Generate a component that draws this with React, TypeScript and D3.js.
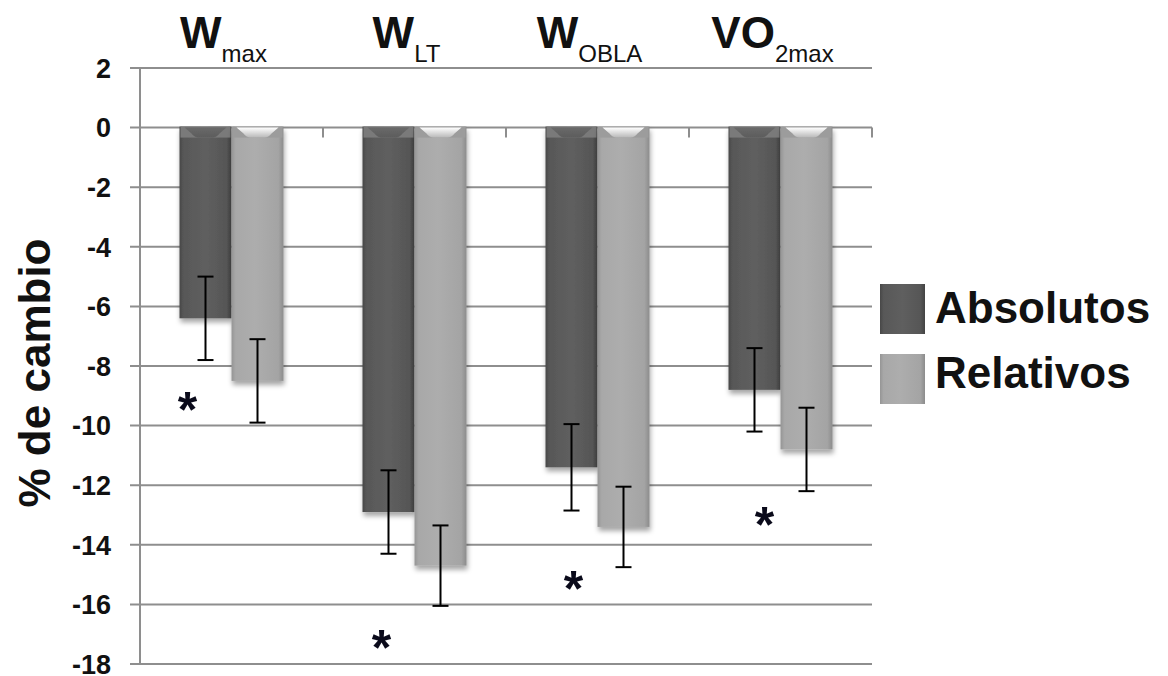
import React from "react";
import * as d3 from "d3";

// Percent change per measure
const categories = ["Wmax", "WLT", "WOBLA", "VO2max"];
const titleMain = ["W", "W", "W", "VO"];
const titleSub = ["max", "LT", "OBLA", "2max"];
const seriesNames = ["Absolutos", "Relativos"];
const absolutos = [-6.4, -12.9, -11.4, -8.8];
const relativos = [-8.5, -14.7, -13.4, -10.8];
const errAbsolutos = [1.4, 1.4, 1.45, 1.4];
const errRelativos = [1.4, 1.35, 1.35, 1.4];
// significance markers (y value) and their horizontal nudge from the dark bar centre
const asteriskY = [-9.1, -17.1, -15.1, -12.95];
const asteriskNudge = [-18, -7, 2, 10];
const yTicks = [2, 0, -2, -4, -6, -8, -10, -12, -14, -16, -18];

const W = 1168;
const H = 676;
const FONT = "'Liberation Sans', Arial, Helvetica, sans-serif";

export default function App() {
  const x = d3.scaleBand<string>().domain(categories).range([140, 872]).padding(0);
  const groupW = 104;
  const xs = d3.scaleBand<string>().domain(seriesNames).range([0, groupW]).padding(0);
  const y = d3.scaleLinear().domain([-18, 2]).range([664, 68]);

  const values = [absolutos, relativos];
  const errs = [errAbsolutos, errRelativos];
  const gradIds = ["gradDark", "gradLight"];
  const cupIds = ["cupDark", "cupLight"];
  const bandColors = ["#7a7a7a", "#9c9c9c"];

  const barX = (ci: number, si: number) =>
    (x(categories[ci]) as number) + (x.bandwidth() - groupW) / 2 + (xs(seriesNames[si]) as number);

  return (
    <svg
      width={W}
      height={H}
      style={{ position: "absolute", left: 0, top: 0, background: "#fff" }}
      fontFamily={FONT}
    >
      <defs>
        <linearGradient id="gradDark" x1="0" x2="1" y1="0" y2="0">
          <stop offset="0" stopColor="#474747" />
          <stop offset="0.08" stopColor="#585858" />
          <stop offset="0.5" stopColor="#5f5f5f" />
          <stop offset="0.9" stopColor="#565656" />
          <stop offset="1" stopColor="#434343" />
        </linearGradient>
        <linearGradient id="gradLight" x1="0" x2="1" y1="0" y2="0">
          <stop offset="0" stopColor="#959595" />
          <stop offset="0.08" stopColor="#a8a8a8" />
          <stop offset="0.45" stopColor="#adadad" />
          <stop offset="0.9" stopColor="#a4a4a4" />
          <stop offset="1" stopColor="#8c8c8c" />
        </linearGradient>
        <linearGradient id="cupDark" x1="0" x2="0" y1="0" y2="1">
          <stop offset="0" stopColor="#6a6a6a" />
          <stop offset="1" stopColor="#5c5c5c" />
        </linearGradient>
        <linearGradient id="cupLight" x1="0" x2="0" y1="0" y2="1">
          <stop offset="0" stopColor="#ffffff" />
          <stop offset="1" stopColor="#b8b8b8" />
        </linearGradient>
        <filter id="shadow" x="-20%" y="-10%" width="140%" height="130%">
          <feDropShadow dx="1" dy="4" stdDeviation="2.5" floodColor="#000" floodOpacity="0.35" />
        </filter>
        <filter id="soft" x="-5%" y="-20%" width="110%" height="140%">
          <feGaussianBlur stdDeviation="0.7" />
        </filter>
      </defs>

      {/* gridlines */}
      {yTicks.map((t) => (
        <line key={t} x1={130} x2={872} y1={y(t)} y2={y(t)} stroke="#8e8e8e" strokeWidth={2} />
      ))}
      {/* vertical axis */}
      <line x1={140} x2={140} y1={y(2)} y2={y(-18)} stroke="#8e8e8e" strokeWidth={2} />
      {/* category tick marks on the zero line */}
      {categories.map((c) => {
        const xe = (x(c) as number) + x.bandwidth();
        return <line key={c} x1={xe} x2={xe} y1={y(0)} y2={y(0) + 10} stroke="#8e8e8e" strokeWidth={2} />;
      })}

      {/* y tick labels */}
      {yTicks.map((t) => (
        <text
          key={t}
          x={111}
          y={y(t)}
          dy="0.36em"
          textAnchor="end"
          fontSize={27}
          fontWeight="bold"
          fill="#111"
        >
          {t}
        </text>
      ))}

      {/* y axis title */}
      <text
        transform={`translate(50, 373) rotate(-90)`}
        textAnchor="middle"
        fontSize={44}
        fontWeight="bold"
        fill="#111"
      >
        % de cambio
      </text>

      {/* category titles */}
      {categories.map((c, i) => (
        <text
          key={c}
          x={(x(c) as number) + x.bandwidth() / 2 - 8}
          y={48}
          textAnchor="middle"
          fill="#111"
        >
          <tspan fontSize={44} fontWeight="bold">
            {titleMain[i]}
          </tspan>
          <tspan fontSize={24} dy={14}>
            {titleSub[i]}
          </tspan>
        </text>
      ))}

      {/* bars */}
      {categories.map((c, ci) =>
        values.map((vals, si) => {
          const bx = barX(ci, si);
          const bw = xs.bandwidth();
          const y0 = y(0) - 1;
          const y1 = y(vals[ci]);
          const bevel = 11;
          const cup = `M${bx + 5},${y0 + 1} L${bx + bw - 5},${y0 + 1} L${bx + bw - 12},${y0 + bevel - 4} Q${bx + bw - 15},${y0 + bevel} ${bx + bw - 19},${y0 + bevel} L${bx + 19},${y0 + bevel} Q${bx + 15},${y0 + bevel} ${bx + 12},${y0 + bevel - 4} Z`;
          return (
            <g key={`${c}-${si}`}>
              <rect x={bx} y={y0} width={bw} height={y1 - y0} fill={`url(#${gradIds[si]})`} filter="url(#shadow)" />
              <rect x={bx + 1} y={y0} width={bw - 2} height={bevel} fill={bandColors[si]} filter="url(#soft)" />
              <path d={cup} fill={`url(#${cupIds[si]})`} filter="url(#soft)" />
            </g>
          );
        })
      )}

      {/* error bars */}
      {categories.map((c, ci) =>
        values.map((vals, si) => {
          const cx = barX(ci, si) + xs.bandwidth() / 2;
          const top = y(vals[ci] + errs[si][ci]);
          const bot = y(vals[ci] - errs[si][ci]);
          return (
            <g key={`e-${c}-${si}`} stroke="#000" strokeWidth={2}>
              <line x1={cx} x2={cx} y1={top} y2={bot} />
              <line x1={cx - 8} x2={cx + 8} y1={top} y2={top} />
              <line x1={cx - 8} x2={cx + 8} y1={bot} y2={bot} />
            </g>
          );
        })
      )}

      {/* significance asterisks */}
      {categories.map((c, ci) => {
        const cx = barX(ci, 0) + xs.bandwidth() / 2 + asteriskNudge[ci];
        const fs = 50;
        return (
          <text
            key={`a-${c}`}
            x={cx}
            y={y(asteriskY[ci]) + fs * 0.56}
            textAnchor="middle"
            fontSize={fs}
            fontWeight="bold"
            fill="#0a0a1a"
          >
            *
          </text>
        );
      })}

      {/* legend */}
      {seriesNames.map((s, si) => (
        <g key={s}>
          <rect x={880} y={284 + si * 70} width={45} height={50} fill={`url(#${gradIds[si]})`} />
          <text x={935} y={323 + si * 65} fontSize={44} fontWeight="bold" fill="#111">
            {s}
          </text>
        </g>
      ))}
    </svg>
  );
}
